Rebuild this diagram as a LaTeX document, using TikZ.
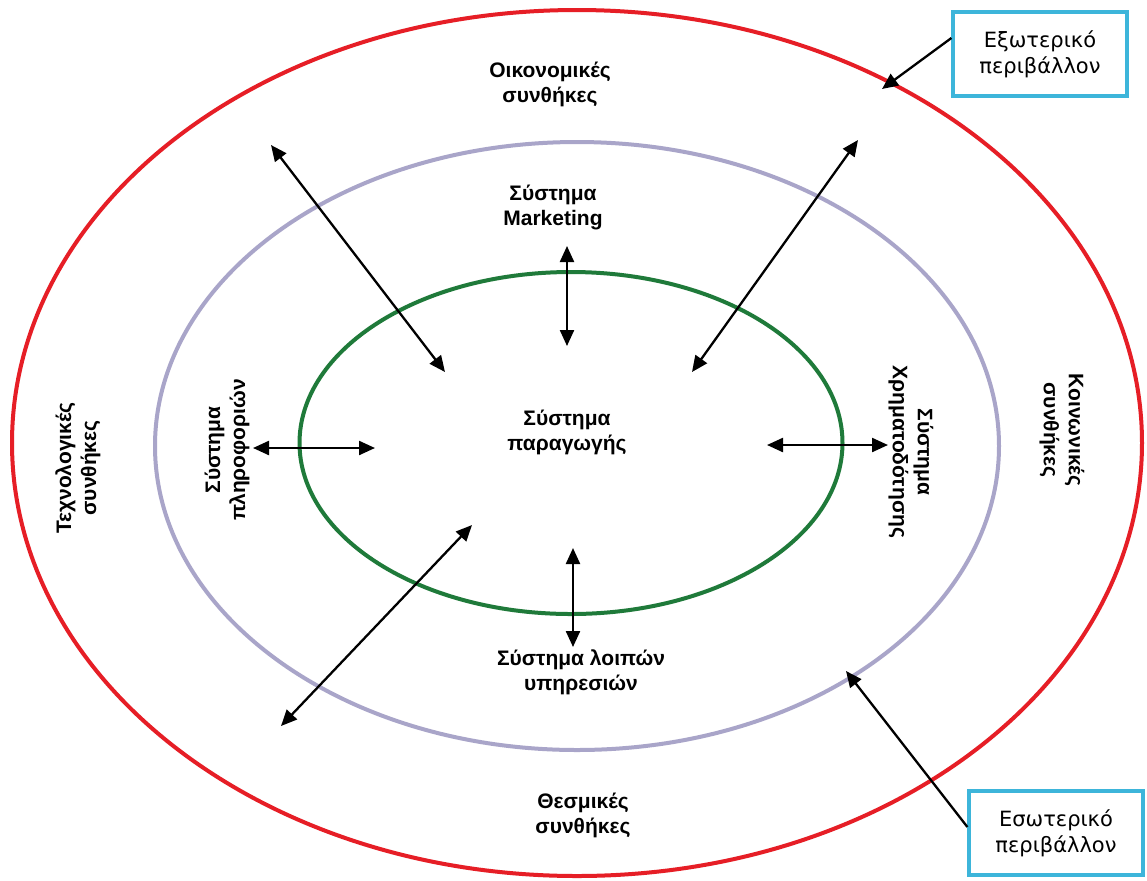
\documentclass[tikz,border=0pt]{standalone}
\usepackage{fontspec}
\setmainfont{Liberation Sans}
\newfontfamily\boxfont{DejaVu Sans}
\usetikzlibrary{arrows.meta}
\definecolor{outerred}{HTML}{E61E26}
\definecolor{midlav}{HTML}{A9A5C9}
\definecolor{innergreen}{HTML}{1F7A3A}
\definecolor{calloutblue}{HTML}{3DB5DA}
\tikzset{
  label/.style={font=\fontsize{10.5}{12.5}\selectfont\bfseries, align=center, inner sep=0pt},
  calloutbox/.style={draw=calloutblue, line width=1.6pt, font=\boxfont\fontsize{10.5}{13}\selectfont,
    align=center, minimum width=87pt, minimum height=42pt, inner sep=0pt},
  link/.style={line width=1.15pt, {Triangle[length=8pt,width=7pt]}-{Triangle[length=8pt,width=7pt]}},
  pointer/.style={line width=1.15pt, -{Triangle[length=8pt,width=7pt]}},
}
\begin{document}
\begin{tikzpicture}[x=0.5pt,y=-0.5pt]
\useasboundingbox (0,0) rectangle (1147,880);
\fill[white] (0,0) rectangle (1147,880);

% the three environment rings
\coordinate (co) at (577,443);
\coordinate (cm) at (577,446);
\coordinate (ci) at (571,443);
\draw[outerred, line width=2pt] (co) ellipse [x radius=282.5pt, y radius=216.5pt];
\draw[midlav, line width=2pt] (cm) ellipse [x radius=211pt, y radius=152pt];
\draw[innergreen, line width=2pt] (ci) ellipse [x radius=135.75pt, y radius=85.5pt];

% labels
\node[label] (econ) at (550,84) {Οικονομικές\\συνθήκες};
\node[label] (inst) at (583,815) {Θεσμικές\\συνθήκες};
\node[label, rotate=90] (tech) at (78,468) {Τεχνολογικές\\συνθήκες};
\node[label, rotate=-90] (soc) at (1062,430) {Κοινωνικές\\συνθήκες};
\node[label] (mkt) at (553,207) {Σύστημα\\Marketing};
\node[label] (prod) at (567,432) {Σύστημα\\παραγωγής};
\node[label] (serv) at (581,672) {Σύστημα λοιπών\\υπηρεσιών};
\node[label, rotate=90] (info) at (227,450) {Σύστημα\\πληροφοριών};
\node[label, rotate=-90] (fin) at (911,452) {Σύστημα\\Χρηματοδότησης};

% callout boxes
\node[calloutbox] (ext) at (1040,54) {Εξωτερικό\\περιβάλλον};
\node[calloutbox] (int) at (1056,833) {Εσωτερικό\\περιβάλλον};

% arrow end points
\coordinate (a1) at (271,145);  \coordinate (b1) at (445,372);
\coordinate (a2) at (858,140);  \coordinate (b2) at (692,372);
\coordinate (a3) at (567,246);  \coordinate (b3) at (567,346);
\coordinate (a4) at (253,448);  \coordinate (b4) at (375,448);
\coordinate (a5) at (767,445);  \coordinate (b5) at (888,445);
\coordinate (a6) at (573,548);  \coordinate (b6) at (573,647);
\coordinate (a7) at (472,525);  \coordinate (b7) at (281,726);
\coordinate (extpt) at (882,89);
\coordinate (intpt) at (846,671);

% interactions
\draw[link] (a1) -- (b1);
\draw[link] (a2) -- (b2);
\draw[link] (a3) -- (b3);
\draw[link] (a4) -- (b4);
\draw[link] (a5) -- (b5);
\draw[link] (a6) -- (b6);
\draw[link] (a7) -- (b7);

% callout pointers
\draw[pointer] (ext.west |- 0,38) -- (extpt);
\draw[pointer] (int.west |- 0,827) -- (intpt);
\end{tikzpicture}
\end{document}
